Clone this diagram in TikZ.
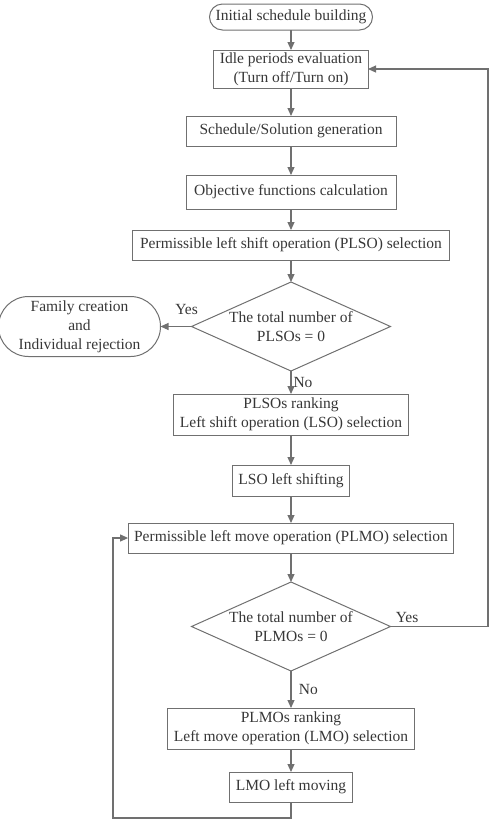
\documentclass[tikz,border=0pt]{standalone}
\usepackage{fontspec}
\setmainfont{Liberation Serif}
\usetikzlibrary{arrows.meta,positioning,shapes.geometric}
\definecolor{linegray}{RGB}{112,112,112}
\definecolor{textgray}{RGB}{55,55,55}

\begin{document}
\begin{tikzpicture}[
            x=1pt, y=1pt,
            node distance=24pt,
            every node/.style={text=textgray, font=\fontsize{15.5}{19}\selectfont},
            box/.style={draw=linegray, line width=1pt, outer sep=0pt, align=center, minimum height=30pt, inner xsep=6pt, inner ysep=0.5pt},
            terminal/.style={box, rounded corners=13pt},
            decision/.style={draw=linegray, line width=1pt, outer sep=0pt, diamond, aspect=2.2, inner sep=-3pt, minimum width=199pt, minimum height=89pt, align=center},
            arrow/.style={-{Triangle[length=8pt,width=7pt]}, draw=linegray, line width=1.1pt}
        ]
        \useasboundingbox (0,0) rectangle (493,-831);
        \node[terminal, minimum width=163pt, minimum height=26pt] (start) at (291,-17) {Initial schedule building};
        \node[box, minimum width=151pt, minimum height=38pt, below=20pt of start] (idle) {Idle periods evaluation\\(Turn off/Turn on)};
        \node[box, minimum width=210pt, below=28pt of idle] (gen) {Schedule/Solution generation};
        \node[box, minimum width=210pt, minimum height=34pt, below=29pt of gen] (obj) {Objective functions calculation};
        \node[box, minimum width=317pt, below=21pt of obj] (plso) {Permissible left shift operation (PLSO) selection};
        \node[decision, below=22pt of plso] (plsozero) {The total number of\\PLSOs = 0};
        \node[terminal, rounded corners=30pt, minimum width=162pt, minimum height=60pt, left=31pt of plsozero] (family) {Family creation\\and\\Individual rejection};
        \node[box, minimum width=234pt, minimum height=41pt, below=23pt of plsozero] (plsorank) {PLSOs ranking\\Left shift operation (LSO) selection};
        \node[box, minimum width=115pt, minimum height=31pt, below=30pt of plsorank] (lsoshift) {LSO left shifting};
        \node[box, minimum width=324pt, below=27pt of lsoshift] (plmo) {Permissible left move operation (PLMO) selection};
        \node[decision, below=29pt of plmo] (plmozero) {The total number of\\PLMOs = 0};
        \node[box, minimum width=246pt, minimum height=41pt, below=37pt of plmozero] (plmorank) {PLMOs ranking\\Left move operation (LMO) selection};
        \node[box, minimum width=121pt, below=23pt of plmorank] (lmomove) {LMO left moving};

        \coordinate (rightrail) at (488,0);
        \coordinate (bottomleft) at (113,-818);

        \draw[arrow] (start) -- (idle);
        \draw[arrow] (idle) -- (gen);
        \draw[arrow] (gen) -- (obj);
        \draw[arrow] (obj) -- (plso);
        \draw[arrow] (plso) -- (plsozero);
        \draw[arrow] (plsozero) -- node[above, pos=0.16, yshift=8pt] {Yes} (family);
        \draw[arrow] (plsozero) -- node[right, inner sep=2pt] {No} (plsorank);
        \draw[arrow] (plsorank) -- (lsoshift);
        \draw[arrow] (lsoshift) -- (plmo);
        \draw[arrow] (plmo) -- (plmozero);
        \draw[arrow] (plmozero.east) -- node[above, pos=0.17] {Yes} (plmozero.east -| rightrail) |- (idle.east);
        \draw[arrow] (plmozero) -- node[right, xshift=4pt] {No} (plmorank);
        \draw[arrow] (plmorank) -- (lmomove);
        \draw[arrow] (lmomove.south) |- (bottomleft) |- (plmo.west);
        \end{tikzpicture}
\end{document}
